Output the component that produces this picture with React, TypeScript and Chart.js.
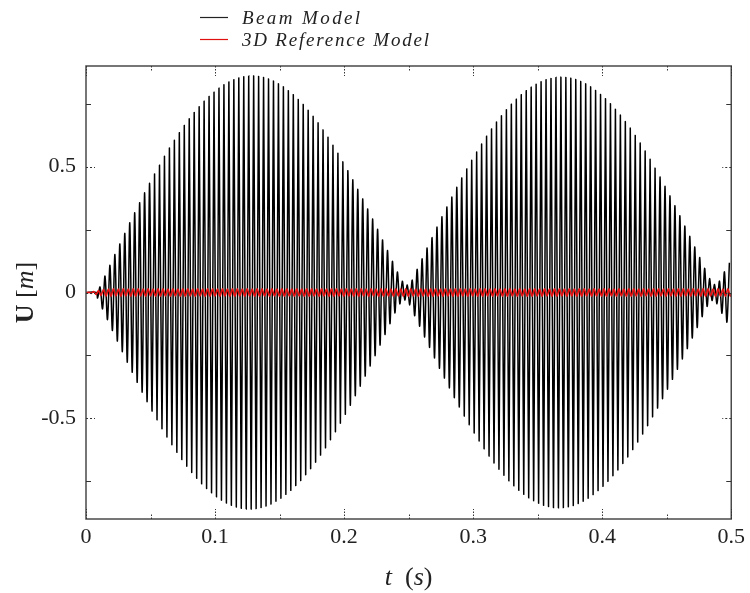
import React, { useEffect, useRef } from "react";
import { Chart, registerables } from "chart.js";

Chart.register(...registerables);

// ---- data ----
const SERIES_NAMES = ["Beam Model", "3D Reference Model"];
const X_TICKS = [0, 0.1, 0.2, 0.3, 0.4, 0.5];
const X_TICK_LABELS = ["0", "0.1", "0.2", "0.3", "0.4", "0.5"];
const X_MINOR = [0.05, 0.15, 0.25, 0.35, 0.45];
const Y_TICKS = [-0.5, 0, 0.5];
const Y_TICK_LABELS = ["-0.5", "0", "0.5"];
const Y_MINOR = [-0.75, -0.25, 0.25, 0.75];

// onset time of the oscillation (s) and half-period of one swing (s)
const BEAM_ONSET = 0.008;
const REF_ONSET = 0.003;
const HALF_CYCLE = 0.00192;

// amplitude of every oscillation cycle of the beam model (m)
const beamAmp = [
  0.022, 0.065, 0.108, 0.151, 0.193, 0.235, 0.277, 0.317, 0.357, 0.396,
  0.434, 0.471, 0.506, 0.541, 0.574, 0.605, 0.635, 0.664, 0.690, 0.715,
  0.738, 0.760, 0.779, 0.796, 0.812, 0.825, 0.836, 0.845, 0.852, 0.857,
  0.859, 0.860, 0.858, 0.854, 0.848, 0.840, 0.829, 0.817, 0.802, 0.786,
  0.767, 0.747, 0.724, 0.700, 0.674, 0.646, 0.617, 0.585, 0.553, 0.519,
  0.484, 0.448, 0.410, 0.372, 0.332, 0.292, 0.251, 0.209, 0.167, 0.124,
  0.081, 0.045, 0.030, 0.049, 0.092, 0.134, 0.177, 0.218, 0.260, 0.301,
  0.340, 0.379, 0.418, 0.455, 0.491, 0.525, 0.558, 0.590, 0.621, 0.650,
  0.677, 0.702, 0.726, 0.748, 0.768, 0.786, 0.802, 0.816, 0.827, 0.837,
  0.845, 0.850, 0.854, 0.855, 0.854, 0.851, 0.846, 0.838, 0.829, 0.817,
  0.803, 0.787, 0.770, 0.750, 0.728, 0.705, 0.679, 0.653, 0.624, 0.594,
  0.562, 0.529, 0.494, 0.459, 0.422, 0.384, 0.345, 0.305, 0.264, 0.223,
  0.181, 0.139, 0.096, 0.055, 0.032, 0.045, 0.082, 0.118,
];

// amplitude of every oscillation cycle of the 3D reference model (m)
const refAmp = [
  0.004, 0.008, 0.012, 0.014, 0.015, 0.014, 0.015, 0.014, 0.015, 0.015,
  0.014, 0.015, 0.014, 0.015, 0.015, 0.014, 0.015, 0.014, 0.015, 0.015,
  0.014, 0.015, 0.014, 0.015, 0.015, 0.014, 0.015, 0.014, 0.015, 0.015,
  0.014, 0.015, 0.014, 0.015, 0.015, 0.014, 0.015, 0.014, 0.015, 0.015,
  0.014, 0.015, 0.014, 0.015, 0.015, 0.014, 0.015, 0.014, 0.015, 0.015,
  0.014, 0.015, 0.014, 0.015, 0.015, 0.014, 0.015, 0.014, 0.015, 0.015,
  0.014, 0.015, 0.014, 0.015, 0.015, 0.014, 0.015, 0.014, 0.015, 0.015,
  0.014, 0.015, 0.014, 0.015, 0.015, 0.014, 0.015, 0.014, 0.015, 0.015,
  0.014, 0.015, 0.014, 0.015, 0.015, 0.014, 0.015, 0.014, 0.015, 0.015,
  0.014, 0.015, 0.014, 0.015, 0.015, 0.014, 0.015, 0.014, 0.015, 0.015,
  0.014, 0.015, 0.014, 0.015, 0.015, 0.014, 0.015, 0.014, 0.015, 0.015,
  0.014, 0.015, 0.014, 0.015, 0.015, 0.014, 0.015, 0.014, 0.015, 0.015,
  0.014, 0.015, 0.014, 0.015, 0.015, 0.014, 0.015, 0.014, 0.015, 0.015,
];

const X_MIN = 0;
const X_MAX = 0.5;
const Y_MIN = -0.9;
const Y_MAX = 0.9;

function buildSeries(onset: number, amps: number[]) {
  const pts: { x: number; y: number }[] = [
    { x: 0, y: 0 },
    { x: onset, y: 0 },
  ];
  amps.forEach((a, j) => {
    const t1 = onset + (2 * j + 0.5) * HALF_CYCLE;
    const t2 = onset + (2 * j + 1.5) * HALF_CYCLE;
    if (t1 <= X_MAX + HALF_CYCLE) pts.push({ x: t1, y: -a });
    if (t2 <= X_MAX + HALF_CYCLE) pts.push({ x: t2, y: a });
  });
  return pts;
}

const SERIF = '"Liberation Serif", "Times New Roman", serif';

type Piece = { text: string; font: string };

function drawRun(ctx: CanvasRenderingContext2D, pieces: Piece[], cx: number, baseY: number) {
  let total = 0;
  const widths = pieces.map((p) => {
    ctx.font = p.font;
    const w = ctx.measureText(p.text).width;
    total += w;
    return w;
  });
  let x = cx - total / 2;
  ctx.textAlign = "left";
  ctx.textBaseline = "alphabetic";
  pieces.forEach((p, i) => {
    ctx.font = p.font;
    ctx.fillText(p.text, x, baseY);
    x += widths[i];
  });
}

const decorPlugin = {
  id: "decor",
  afterDraw(chart: any) {
    const { ctx, chartArea: ca, scales } = chart;
    const xs = scales.x;
    const ys = scales.y;
    ctx.save();

    // frame
    ctx.setLineDash([]);
    ctx.strokeStyle = "#4a4a4a";
    ctx.lineWidth = 1.5;
    ctx.strokeRect(ca.left, ca.top, ca.right - ca.left, ca.bottom - ca.top);

    // x ticks (inward, top and bottom)
    ctx.strokeStyle = "#333";
    ctx.lineWidth = 1;
    const xTick = (v: number, len: number) => {
      const px = Math.round(xs.getPixelForValue(v)) + 0.5;
      ctx.beginPath();
      ctx.moveTo(px, ca.bottom);
      ctx.lineTo(px, ca.bottom - len);
      ctx.moveTo(px, ca.top);
      ctx.lineTo(px, ca.top + len);
      ctx.stroke();
    };
    ctx.setLineDash([1.5, 1.5]);
    X_TICKS.forEach((v) => xTick(v, 10));
    X_MINOR.forEach((v) => xTick(v, 5));

    // y ticks (inward, left and right)
    const yTick = (v: number, len: number) => {
      const py = Math.round(ys.getPixelForValue(v)) + 0.5;
      ctx.beginPath();
      ctx.moveTo(ca.left, py);
      ctx.lineTo(ca.left + len, py);
      ctx.moveTo(ca.right, py);
      ctx.lineTo(ca.right - len, py);
      ctx.stroke();
    };
    ctx.setLineDash([2, 2]);
    Y_TICKS.forEach((v) => yTick(v, 9));
    ctx.setLineDash([]);
    Y_MINOR.forEach((v) => yTick(v, 5));

    // legend
    const colors = ["#222", "#e01010"];
    const lx0 = ca.left + 114;
    const lx1 = ca.left + 142;
    const tx = ca.left + 156;
    const rows = [17, 39];
    SERIES_NAMES.forEach((name, i) => {
      ctx.strokeStyle = colors[i];
      ctx.lineWidth = 1.2;
      ctx.beginPath();
      ctx.moveTo(lx0, rows[i] + 0.5);
      ctx.lineTo(lx1, rows[i] + 0.5);
      ctx.stroke();
      ctx.fillStyle = "#222";
      ctx.font = `italic 19px ${SERIF}`;
      (ctx as any).letterSpacing = i === 0 ? "2.4px" : "1.8px";
      ctx.textAlign = "left";
      ctx.textBaseline = "alphabetic";
      ctx.fillText(name, tx, rows[i] + 7);
    });
    (ctx as any).letterSpacing = "0px";

    // x axis title: t (s)
    ctx.fillStyle = "#222";
    const cx = (ca.left + ca.right) / 2;
    drawRun(
      ctx,
      [
        { text: "t", font: `italic 26px ${SERIF}` },
        { text: "  (", font: `26px ${SERIF}` },
        { text: "s", font: `italic 26px ${SERIF}` },
        { text: ")", font: `26px ${SERIF}` },
      ],
      cx,
      585
    );

    // y axis title: U [m]
    const cy = (ca.top + ca.bottom) / 2;
    ctx.save();
    ctx.translate(33, cy);
    ctx.rotate(-Math.PI / 2);
    drawRun(
      ctx,
      [
        { text: "U", font: `bold 26px ${SERIF}` },
        { text: " [", font: `26px ${SERIF}` },
        { text: "m", font: `italic 26px ${SERIF}` },
        { text: "]", font: `26px ${SERIF}` },
      ],
      0,
      0
    );
    ctx.restore();

    ctx.restore();
  },
};

export default function App() {
  const canvasRef = useRef<HTMLCanvasElement | null>(null);

  useEffect(() => {
    document.body.style.margin = "0";
    const canvas = canvasRef.current;
    if (!canvas) return;

    const chart = new Chart(canvas, {
      type: "line",
      data: {
        datasets: [
          {
            label: SERIES_NAMES[1],
            data: buildSeries(REF_ONSET, refAmp),
            borderColor: "#e51010",
            borderWidth: 1.6,
            pointRadius: 0,
            tension: 0.3,
            fill: false,
            order: 0,
          },
          {
            label: SERIES_NAMES[0],
            data: buildSeries(BEAM_ONSET, beamAmp),
            borderColor: "#000",
            borderWidth: 1.5,
            pointRadius: 0,
            tension: 0.3,
            fill: false,
            order: 1,
          },
        ],
      },
      options: {
        animation: false,
        responsive: false,
        devicePixelRatio: 1,
        parsing: false as any,
        normalized: true,
        layout: { padding: { top: 66, right: 13, left: 0, bottom: 0 } },
        plugins: {
          legend: { display: false },
          tooltip: { enabled: false },
          title: { display: false },
        },
        scales: {
          x: {
            type: "linear",
            min: X_MIN,
            max: X_MAX,
            grid: { display: false, drawTicks: false },
            border: { display: false },
            afterBuildTicks: (scale: any) => {
              scale.ticks = X_TICKS.map((v) => ({ value: v }));
            },
            afterFit: (scale: any) => {
              scale.height = 74;
            },
            ticks: {
              padding: 5,
              maxRotation: 0,
              autoSkip: false,
              color: "#222",
              font: { family: SERIF, size: 22 },
              callback: (v: any) => {
                const i = X_TICKS.findIndex((t) => Math.abs(t - Number(v)) < 1e-9);
                return i >= 0 ? X_TICK_LABELS[i] : "";
              },
            },
          },
          y: {
            type: "linear",
            min: Y_MIN,
            max: Y_MAX,
            grid: { display: false, drawTicks: false },
            border: { display: false },
            afterBuildTicks: (scale: any) => {
              scale.ticks = Y_TICKS.map((v) => ({ value: v }));
            },
            afterFit: (scale: any) => {
              scale.width = 86;
            },
            ticks: {
              padding: 10,
              autoSkip: false,
              color: "#222",
              font: { family: SERIF, size: 22 },
              callback: (v: any) => {
                const i = Y_TICKS.findIndex((t) => Math.abs(t - Number(v)) < 1e-9);
                return i >= 0 ? Y_TICK_LABELS[i] : "";
              },
            },
          },
        },
      },
      plugins: [decorPlugin],
    });

    return () => chart.destroy();
  }, []);

  return (
    <div style={{ width: 750, height: 593, background: "#fff" }}>
      <canvas ref={canvasRef} width={750} height={593} style={{ display: "block" }} />
    </div>
  );
}
